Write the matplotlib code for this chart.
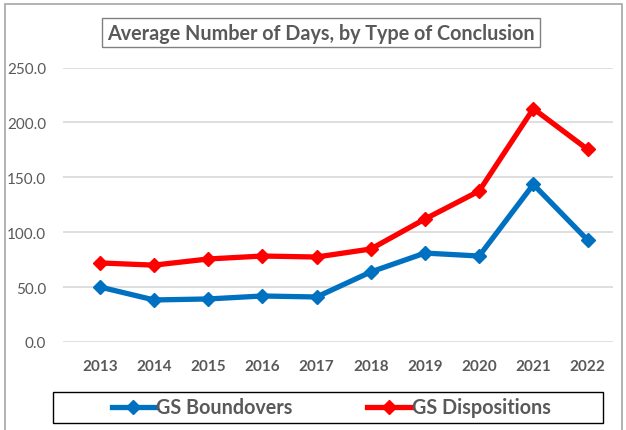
import matplotlib.pyplot as plt
from matplotlib.patches import Rectangle
from matplotlib.lines import Line2D

years = ["2013", "2014", "2015", "2016", "2017", "2018", "2019", "2020", "2021", "2022"]
boundovers = [50.1, 38.3, 39.2, 41.9, 41.0, 63.8, 81.0, 78.3, 143.5, 92.9]
dispositions = [72.0, 70.0, 75.6, 78.3, 77.4, 84.7, 112.0, 137.5, 212.5, 175.5]
y_ticks = [0, 50, 100, 150, 200, 250]

plt.rcParams["font.family"] = ["Lato", "DejaVu Sans"]
text_color = "#595959"

fig = plt.figure(figsize=(6.26, 4.31), dpi=100)
W, H = 626, 431

# outer chart border
fig.patches.append(Rectangle((5 / W, -0.05), 617 / W, 1.05 - 5 / H, transform=fig.transFigure,
                             fill=False, edgecolor="#a6a6a6", linewidth=1.2))

ax = fig.add_axes([63 / W, 1 - 343 / H, 550 / W, 274.5 / H])
x = list(range(len(years)))
ax.plot(x, boundovers, color="#0070c0", linewidth=3.8, marker="D", markersize=7, label="GS Boundovers")
ax.plot(x, dispositions, color="#ff0000", linewidth=3.8, marker="D", markersize=7, label="GS Dispositions")

ax.set_ylim(0, 250)
ax.set_xlim(-0.68, 9.47)
ax.set_yticks(y_ticks)
ax.set_yticklabels([f"{v:.1f}" for v in y_ticks], fontsize=11, color=text_color)
ax.set_xticks(x)
ax.set_xticklabels(years, fontsize=11, fontweight="bold", color=text_color)
ax.tick_params(length=0)
ax.tick_params(axis="y", pad=12)
ax.tick_params(axis="x", pad=12)
ax.grid(axis="y", color="#d9d9d9", linewidth=1.2)
ax.set_axisbelow(True)
for s in ax.spines.values():
    s.set_visible(False)

fig.text(321 / W, 1 - 33.5 / H, "Average Number of Days, by Type of Conclusion", ha="center", va="center",
         fontsize=14.2, fontweight="bold", color=text_color,
         bbox=dict(boxstyle="square,pad=0.25", facecolor="white", edgecolor="#808080", linewidth=1))

# legend box
fig.patches.append(Rectangle((53 / W, 1 - 424 / H), 550 / W, 31 / H, transform=fig.transFigure,
                             fill=False, edgecolor="black", linewidth=1))
handles = [
    Line2D([0], [0], color="#0070c0", linewidth=3.8, marker="D", markersize=7),
    Line2D([0], [0], color="#ff0000", linewidth=3.8, marker="D", markersize=7),
]
fig.legend(handles, ["GS Boundovers", "GS Dispositions"], loc="center", bbox_to_anchor=(331 / W, 1 - 408.5 / H),
           ncol=2, frameon=False, handlelength=2.2, handletextpad=0.05, columnspacing=3.8,
           prop={"size": 14.2, "weight": "bold"}, labelcolor=text_color)

fig.savefig("out.png", dpi=100)
